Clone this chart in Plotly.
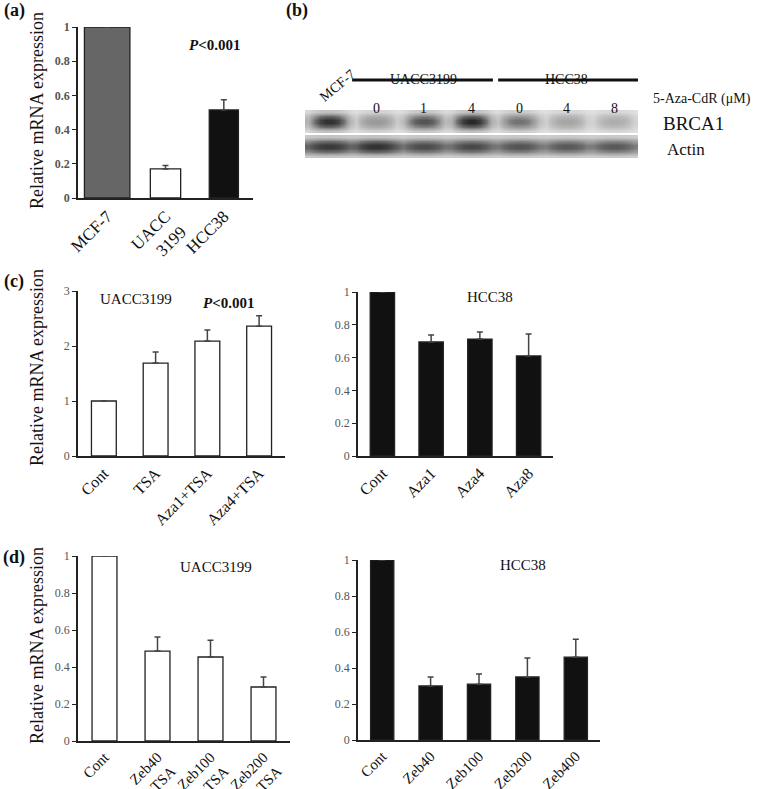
import plotly.graph_objects as go

W, H = 758, 789
SERIF = "Liberation Serif"

# ---- datos (a)
a_cats = ["MCF-7", "UACC<br>3199", "HCC38"]
a_vals = [1.0, 0.17, 0.515]
a_err = [0.0, 0.02, 0.06]
a_colors = ["#666666", "white", "#111111"]

# ---- datos (b) western blot
lanes = ["MCF-7", "0", "1", "4", "0", "4", "8"]
brca1_int = [0.85, 0.45, 0.72, 0.88, 0.6, 0.38, 0.33]
actin_int = [0.82, 0.85, 0.75, 0.76, 0.72, 0.7, 0.7]

# ---- datos (c)
c1_cats = ["Cont", "TSA", "Aza1+TSA", "Aza4+TSA"]
c1_vals = [1.0, 1.69, 2.09, 2.36]
c1_err = [0.0, 0.2, 0.2, 0.19]

c2_cats = ["Cont", "Aza1", "Aza4", "Aza8"]
c2_vals = [1.0, 0.695, 0.713, 0.61]
c2_err = [0.0, 0.043, 0.043, 0.134]

# ---- datos (d)
d1_cats = ["Cont", "Zeb40<br>+TSA", "Zeb100<br>+TSA", "Zeb200<br>+TSA"]
d1_vals = [1.0, 0.486, 0.454, 0.292]
d1_err = [0.0, 0.076, 0.091, 0.054]

d2_cats = ["Cont", "Zeb40", "Zeb100", "Zeb200", "Zeb400"]
d2_vals = [1.0, 0.30, 0.31, 0.35, 0.46]
d2_err = [0.0, 0.05, 0.057, 0.105, 0.10]


def fx(p):
    return p / W


def fy(p):
    return 1 - p / H


fig = go.Figure()


def panel(n, cats, vals, err, color, widths, xdom, ydom, yrange, dtick, tsize, bold=False):
    xa = "x" if n == 1 else f"x{n}"
    ya = "y" if n == 1 else f"y{n}"
    fig.add_trace(go.Bar(
        x=cats, y=vals, xaxis=xa, yaxis=ya,
        marker=dict(color=color, line=dict(color="#222", width=1.3)),
        width=widths,
        error_y=dict(type="data", symmetric=False, array=err, arrayminus=[0] * len(err),
                     color="#444", thickness=1.5, width=3),
        showlegend=False,
    ))
    key = "" if n == 1 else str(n)
    fig.update_layout(**{
        f"xaxis{key}": dict(domain=[fx(xdom[0]), fx(xdom[1])], anchor=ya,
                            showline=True, linecolor="#222", linewidth=1.5,
                            ticks="", tickangle=-45, showgrid=False, automargin=False,
                            tickfont=dict(family=SERIF, size=tsize, color="#111")),
        f"yaxis{key}": dict(domain=[fy(ydom[0]), fy(ydom[1])], anchor=xa,
                            range=yrange, dtick=dtick, showline=True, linecolor="#222",
                            linewidth=1.5, ticks="outside", ticklen=4, tickcolor="#222",
                            showgrid=False, zeroline=False, automargin=False,
                            tickfont=dict(family=SERIF, size=12, color="#555",
                                          weight="bold" if bold else "normal")),
    })


panel(1, a_cats, a_vals, a_err, a_colors, [0.78, 0.52, 0.5],
      (78, 253), (198, 27), [0, 1], 0.2, 17, bold=True)
panel(2, c1_cats, c1_vals, c1_err, "white", 0.48,
      (78, 285), (456, 291), [0, 3], 1, 16)
panel(3, c2_cats, c2_vals, c2_err, "#111111", 0.5,
      (358, 553), (456, 292), [0, 1], 0.2, 16)
panel(4, d1_cats, d1_vals, d1_err, "white", 0.47,
      (78, 290), (741, 556), [0, 1], 0.2, 15)
panel(5, d2_cats, d2_vals, d2_err, "#111111", 0.48,
      (358, 600), (740, 560), [0, 1], 0.2, 15)

# ---- western blot (b) como heatmap suavizado
sub = 8
h_brca = [0.35, 0.7, 0.92, 1, 1, 0.92, 0.7, 0.35]
h_act = [0.8, 0.9, 0.97, 1, 1, 0.97, 0.9, 0.8]
v_prof = [0.25, 0.75, 1, 1, 0.75, 0.25]
xs = [i - 0.5 + (j + 0.5) / sub for i in range(len(lanes)) for j in range(sub)]


def band_grid(inten, hprof):
    return [[0.05 + inten[i] * hprof[j] * v for i in range(len(inten)) for j in range(sub)]
            for v in v_prof]


gray = [[0, "#ededed"], [0.5, "#9a9a9a"], [1, "#181818"]]
fig.add_trace(go.Heatmap(x=xs, y=list(range(len(v_prof))), z=band_grid(brca1_int, h_brca),
                         xaxis="x6", yaxis="y6", colorscale=gray, zmin=0, zmax=1,
                         zsmooth="best", showscale=False, hoverinfo="skip"))
fig.add_trace(go.Heatmap(x=xs, y=list(range(len(v_prof))), z=band_grid(actin_int, h_act),
                         xaxis="x6", yaxis="y7", colorscale=gray, zmin=0, zmax=1,
                         zsmooth="best", showscale=False, hoverinfo="skip"))
hidden = dict(visible=False, showgrid=False, zeroline=False, automargin=False)
fig.update_layout(
    xaxis6=dict(domain=[fx(305), fx(638)], range=[-0.5, len(lanes) - 0.5], anchor="y6", **hidden),
    yaxis6=dict(domain=[fy(133), fy(110)], range=[-0.5, len(v_prof) - 0.5], anchor="x6", **hidden),
    yaxis7=dict(domain=[fy(158), fy(135)], range=[-0.5, len(v_prof) - 0.5], anchor="x6", **hidden),
)

ann = []


def txt(x, y, s, size=15, **kw):
    d = dict(x=fx(x), y=fy(y), xref="paper", yref="paper", text=s, showarrow=False,
             font=dict(family=SERIF, size=size, color="#111"), xanchor="center", yanchor="middle")
    d.update(kw)
    ann.append(d)


# letras de panel
for lx, ly, lab in [(14, 11, "(a)"), (297, 10, "(b)"), (14, 281, "(c)"), (14, 557, "(d)")]:
    txt(lx, ly, f"<b>{lab}</b>", size=18)

# titulos eje y
for cy in (111, 368, 646):
    txt(37, cy, "Relative mRNA expression", size=18, textangle=-90)

pval = "<b><i>P</i>&lt;0.001</b>"
txt(214, 45, pval, size=15)
txt(136, 299, "UACC3199")
txt(228, 303, pval, size=15)
txt(490, 297, "HCC38")
txt(216, 567, "UACC3199")
txt(523, 565, "HCC38")

# etiquetas del blot
for i, lab in enumerate(lanes):
    if i == 0:
        ann.append(dict(x=i, xref="x6", y=fy(64), yref="paper", text=lab, showarrow=False,
                        textangle=-40, xshift=9,
                        font=dict(family=SERIF, size=14, color="#111")))
    else:
        ann.append(dict(x=i, xref="x6", y=fy(99), yref="paper", text=lab, showarrow=False,
                        font=dict(family=SERIF, size=14, color="#111")))
ann.append(dict(x=2, xref="x6", y=fy(70), yref="paper", text="UACC3199", showarrow=False,
                font=dict(family=SERIF, size=14, color="#111")))
ann.append(dict(x=5, xref="x6", y=fy(70), yref="paper", text="HCC38", showarrow=False,
                font=dict(family=SERIF, size=14, color="#111")))
txt(651, 99, "5-Aza-CdR (μM)", size=14, xanchor="left")
txt(661, 124, "BRCA1", size=19, xanchor="left")
txt(665, 150, "Actin", size=17, xanchor="left")

shapes = [
    dict(type="line", xref="x6", yref="paper", x0=0.49, x1=3.45, y0=fy(80), y1=fy(80),
         line=dict(color="#111", width=3)),
    dict(type="line", xref="x6", yref="paper", x0=3.56, x1=6.52, y0=fy(80), y1=fy(80),
         line=dict(color="#111", width=3)),
]

fig.update_layout(
    template="none",
    width=W, height=H,
    margin=dict(l=0, r=0, t=0, b=0),
    paper_bgcolor="white", plot_bgcolor="white",
    showlegend=False,
    annotations=ann,
    shapes=shapes,
)

# la pagina trae margen de 8px en el body; se quita para que cuadre con la referencia
fig.write_html("out.html", config={"displayModeBar": False},
               post_script="document.body.style.margin='0';")
